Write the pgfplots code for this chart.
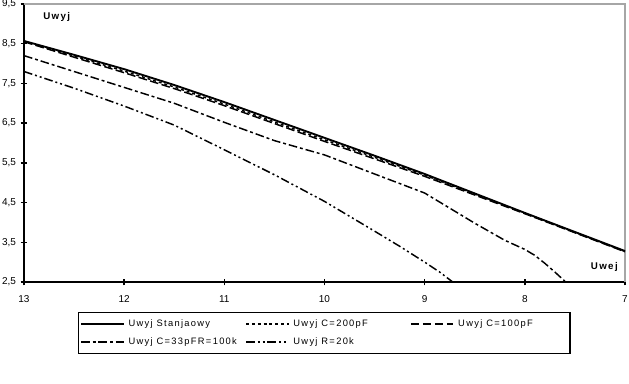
\documentclass[border=0pt]{standalone}
\usepackage{pgfplots}
\pgfplotsset{compat=1.18}
\usepackage{fontspec}
\setmainfont{Liberation Sans}
\newfontfamily\spaced[LetterSpace=14]{Liberation Sans}
\begin{document}
\begin{tikzpicture}
\begin{axis}[
  scale only axis,
  width=450.75pt, height=208.5pt,
  x dir=reverse,
  xmin=7, xmax=13, ymin=2.5, ymax=9.5,
  axis x line*=bottom, axis y line*=left,
  axis line style={-, line width=1.5pt, black},
  xtick={7,8,9,10,11,12,13},
  ytick={2.5,3.5,4.5,5.5,6.5,7.5,8.5,9.5},
  tick align=center,
  major tick length=5pt,
  tick style={black, line width=1.1pt},
  /pgf/number format/assume math mode=true,
  yticklabel style={/pgf/number format/.cd, fixed, fixed zerofill, precision=1, use comma, /tikz/.cd, font=\fontsize{7.5}{9}\selectfont},
  xticklabel style={font=\fontsize{7.5}{9}\selectfont, yshift=-4pt},
  legend columns=3,
  legend cell align=left,
  legend image code/.code={\draw[#1] (0pt,0pt) -- (32pt,0pt);},
  legend style={at={(0.0899,-0.1079)}, anchor=north west, draw=black, line width=1.1pt,
    inner xsep=1pt, inner ysep=3pt, row sep=2.5pt,
    font=\spaced\fontsize{7}{8}\selectfont,
    nodes={inner xsep=3pt, inner ysep=2pt, text height=5.5pt, text depth=1.5pt}},
  clip=false,
]
\draw[gray!70, line width=1.2pt] (rel axis cs:0,1) -- (rel axis cs:1,1) -- (rel axis cs:1,0);

\addplot[black, line width=1.4pt] coordinates {
(13,8.57) (12.5,8.22) (12,7.86) (11.5,7.46) (11,7.03) (10.5,6.58) (10,6.13) (9.5,5.68) (9,5.22) (8.5,4.73) (8,4.24) (7.5,3.76) (7,3.28)};
\addlegendentry{\makebox[84.5pt][l]{Uwyj Stanjaowy}}

\addplot[black, line width=1.1pt, dash pattern=on 2.2pt off 2.2pt] coordinates {
(13,8.56) (12.5,8.19) (12,7.81) (11.5,7.41) (11,6.98) (10.5,6.53) (10,6.08) (9.5,5.64) (9,5.19) (8.5,4.71) (8,4.23) (7.5,3.75) (7,3.27)};
\addlegendentry{\makebox[84.5pt][l]{Uwyj\ C=200pF}}

\addplot[black, line width=1.1pt, dash pattern=on 6.5pt off 2.5pt] coordinates {
(13,8.55) (12.5,8.16) (12,7.77) (11.5,7.37) (11,6.94) (10.5,6.49) (10,6.04) (9.5,5.6) (9,5.16) (8.5,4.69) (8,4.22) (7.5,3.74) (7,3.26)};
\addlegendentry{\makebox[80pt][l]{Uwyj\ C=100pF}}

\addplot[black, line width=1.1pt, dash pattern=on 6.5pt off 2.2pt on 2.2pt off 2.2pt] coordinates {
(13,8.2) (12.5,7.8) (12,7.4) (11.5,7.0) (11,6.52) (10.5,6.06) (10,5.7) (9.5,5.22) (9,4.74) (8.5,3.98) (8.2,3.55) (8,3.32) (7.9,3.17) (7.8,2.97) (7.7,2.75) (7.6,2.52)};
\addlegendentry{Uwyj\ C=33pFR=100k}

\addplot[black, line width=1.1pt, dash pattern=on 6.5pt off 2.2pt on 1.5pt off 2.2pt on 1.5pt off 2.2pt] coordinates {
(13,7.8) (12.5,7.38) (12,6.93) (11.5,6.45) (11,5.83) (10.5,5.2) (10,4.53) (9.5,3.78) (9.25,3.4) (9,3.0) (8.85,2.75) (8.72,2.5)};
\addlegendentry{Uwyj\ R=20k}

\node[anchor=west, font=\spaced\bfseries\fontsize{7.3}{8}\selectfont, inner sep=0pt] at (axis cs:12.81,9.17) {Uwyj};
\node[anchor=east, font=\spaced\bfseries\fontsize{7.3}{8}\selectfont, inner sep=0pt] at (axis cs:7.07,2.89) {Uwej};
\end{axis}
\pgfresetboundingbox
\path[use as bounding box] (-18pt,-76.5pt) rectangle (453.75pt,211.5pt);
\end{tikzpicture}
\end{document}
